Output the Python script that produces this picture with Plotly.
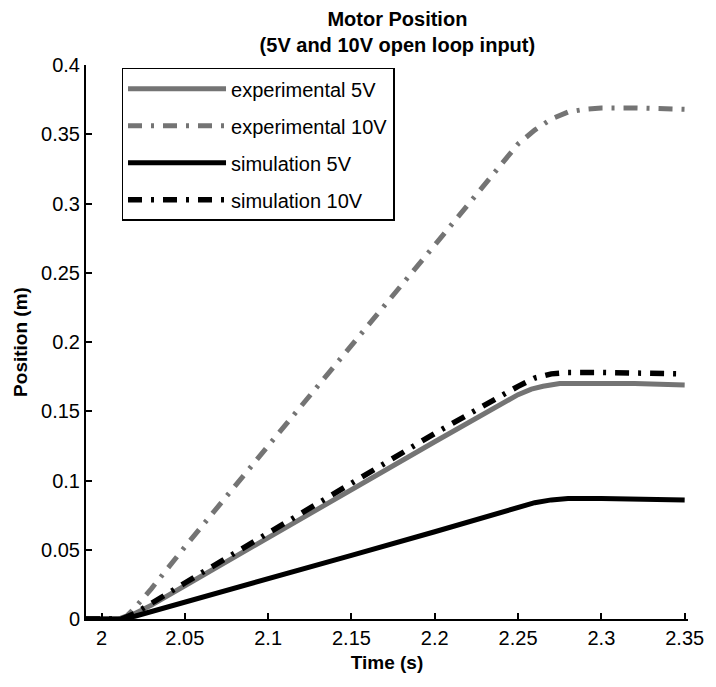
import plotly.graph_objects as go

# ---- data ----
t_exp5 = [1.9907, 2.000, 2.010, 2.015, 2.020, 2.030, 2.050, 2.100, 2.150, 2.200, 2.250, 2.258, 2.265, 2.275, 2.290, 2.320, 2.350]
y_exp5 = [0.000, 0.000, 0.000, 0.001, 0.004, 0.010, 0.024, 0.059, 0.094, 0.128, 0.162, 0.166, 0.168, 0.170, 0.170, 0.170, 0.169]

t_exp10 = [1.9907, 2.000, 2.010, 2.015, 2.020, 2.030, 2.050, 2.100, 2.150, 2.200, 2.250, 2.260, 2.270, 2.280, 2.290, 2.300, 2.320, 2.350]
y_exp10 = [0.000, 0.000, 0.000, 0.002, 0.008, 0.022, 0.052, 0.125, 0.197, 0.270, 0.343, 0.353, 0.361, 0.366, 0.368, 0.369, 0.369, 0.368]

t_sim5 = [1.9907, 2.000, 2.012, 2.020, 2.050, 2.100, 2.150, 2.200, 2.250, 2.260, 2.270, 2.280, 2.300, 2.350]
y_sim5 = [0.000, 0.000, 0.000, 0.002, 0.012, 0.029, 0.046, 0.063, 0.080, 0.084, 0.086, 0.087, 0.087, 0.086]

t_sim10 = [1.9907, 2.000, 2.012, 2.020, 2.030, 2.050, 2.100, 2.150, 2.200, 2.250, 2.260, 2.270, 2.280, 2.300, 2.350]
y_sim10 = [0.000, 0.000, 0.000, 0.004, 0.011, 0.026, 0.062, 0.098, 0.134, 0.168, 0.174, 0.177, 0.178, 0.178, 0.177]

names = ["experimental 5V", "experimental 10V", "simulation 5V", "simulation 10V"]
x_ticks = [2, 2.05, 2.1, 2.15, 2.2, 2.25, 2.3, 2.35]
x_tick_text = ["2", "2.05", "2.1", "2.15", "2.2", "2.25", "2.3", "2.35"]
y_ticks = [0, 0.05, 0.1, 0.15, 0.2, 0.25, 0.3, 0.35, 0.4]
y_tick_text = ["0", "0.05", "0.1", "0.15", "0.2", "0.25", "0.3", "0.35", "0.4"]

DASHDOT = "14px,9px,3px,9px"
FONT = "Liberation Sans, Arial, sans-serif"
GRAY = "#747474"

fig = go.Figure()
fig.add_trace(go.Scatter(x=t_exp5, y=y_exp5, mode="lines", name=names[0], legendgroup="a",
                         line=dict(color=GRAY, width=5)))
fig.add_trace(go.Scatter(x=t_exp10, y=y_exp10, mode="lines", name=names[1], legendgroup="b",
                         line=dict(color=GRAY, width=5, dash=DASHDOT)))
fig.add_trace(go.Scatter(x=t_sim5, y=y_sim5, mode="lines", name=names[2], legendgroup="c",
                         line=dict(color="black", width=5)))
fig.add_trace(go.Scatter(x=t_sim10, y=y_sim10, mode="lines", name=names[3], legendgroup="d",
                         line=dict(color="black", width=5.5, dash=DASHDOT)))

fig.update_layout(
    width=716, height=687,
    margin=dict(l=86, r=19, t=65, b=68),
    paper_bgcolor="white", plot_bgcolor="white",
    font=dict(family=FONT, size=20, color="black"),
    title=dict(text="<b>Motor Position</b><br><b>(5V and 10V open loop input)</b>",
               x=0.555, xanchor="center", y=0.962, yanchor="top",
               font=dict(family=FONT, size=20, color="black")),
    showlegend=True,
    legend=dict(x=0.059, y=0.995, xanchor="left", yanchor="top",
                bordercolor="black", borderwidth=1.5, bgcolor="white",
                font=dict(family=FONT, size=20, color="black"),
                tracegroupgap=8, itemwidth=98),
    xaxis=dict(range=[1.9907, 2.352], tickmode="array", tickvals=x_ticks, ticktext=x_tick_text,
               ticks="inside", ticklen=6, tickwidth=1.5, tickcolor="black",
               showline=True, linecolor="black", linewidth=2, mirror=False,
               showgrid=False, zeroline=False,
               title=dict(text="<b>Time (s)</b>", font=dict(family=FONT, size=19), standoff=8)),
    yaxis=dict(range=[0, 0.4], tickmode="array", tickvals=y_ticks, ticktext=y_tick_text,
               ticks="inside", ticklen=6, tickwidth=1.5, tickcolor="black",
               showline=True, linecolor="black", linewidth=2, mirror=False,
               showgrid=False, zeroline=False,
               title=dict(text="<b>Position (m)</b>", font=dict(family=FONT, size=19), standoff=8)),
)

fig.write_html("out.html")
